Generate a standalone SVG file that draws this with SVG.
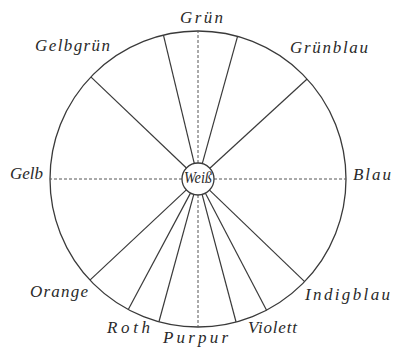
<svg xmlns="http://www.w3.org/2000/svg" width="393" height="347" viewBox="0 0 393 347">
<style>
.lbl{font-family:"Liberation Serif","DejaVu Serif",serif;font-style:italic;font-size:17px;fill:#2a2a2a}
.solid{stroke:#3a3a3a;stroke-width:1.2;fill:none}
.dash{stroke:#555;stroke-width:1;stroke-dasharray:3 2;fill:none}
.ring{stroke:#3a3a3a;stroke-width:1.3;fill:none}
</style>
<rect width="393" height="347" fill="#ffffff"/>
<g id="wheel">
<circle class="ring" cx="198" cy="179" r="148"/>
</g>
<g id="connectors" transform="translate(198,179)">
<line class="dash" x1="0" y1="-16" x2="0" y2="-148"/>
<line class="dash" x1="0" y1="16" x2="0" y2="148"/>
<line class="dash" x1="-16" y1="0" x2="-148" y2="0"/>
<line class="dash" x1="16" y1="0" x2="148" y2="0"/>
<line class="solid" x1="0" y1="-16" x2="0" y2="-148" transform="rotate(-13.5)"/>
<line class="solid" x1="0" y1="-16" x2="0" y2="-148" transform="rotate(15.5)"/>
<line class="solid" x1="0" y1="-16" x2="0" y2="-148" transform="rotate(47.5)"/>
<line class="solid" x1="0" y1="-16" x2="0" y2="-148" transform="rotate(-46.4)"/>
<line class="solid" x1="0" y1="-16" x2="0" y2="-148" transform="rotate(133.9)"/>
<line class="solid" x1="0" y1="-16" x2="0" y2="-148" transform="rotate(152.4)"/>
<line class="solid" x1="0" y1="-16" x2="0" y2="-148" transform="rotate(165.1)"/>
<line class="solid" x1="0" y1="-16" x2="0" y2="-148" transform="rotate(-164.7)"/>
<line class="solid" x1="0" y1="-16" x2="0" y2="-148" transform="rotate(-151.9)"/>
<line class="solid" x1="0" y1="-16" x2="0" y2="-148" transform="rotate(-133.1)"/>
</g>
<g id="weiss">
<circle class="ring" cx="198" cy="179" r="16" fill="#fff"/>
<text class="lbl" x="198" y="183" text-anchor="middle" font-size="12" textLength="28" lengthAdjust="spacingAndGlyphs">Weiß</text>
</g>
<g id="gruen"><text class="lbl" x="180" y="23" textLength="43" lengthAdjust="spacing">Grün</text></g>
<g id="gelbgruen"><text class="lbl" x="35" y="51" textLength="75" lengthAdjust="spacing">Gelbgrün</text></g>
<g id="gruenblau"><text class="lbl" x="290" y="53" textLength="78" lengthAdjust="spacing">Grünblau</text></g>
<g id="gelb"><text class="lbl" x="10" y="179" textLength="33" lengthAdjust="spacing">Gelb</text></g>
<g id="blau"><text class="lbl" x="353" y="180" textLength="38" lengthAdjust="spacing">Blau</text></g>
<g id="orange"><text class="lbl" x="30" y="297" textLength="58" lengthAdjust="spacing">Orange</text></g>
<g id="indigblau"><text class="lbl" x="305" y="300" textLength="85" lengthAdjust="spacing">Indigblau</text></g>
<g id="roth"><text class="lbl" x="107" y="333" textLength="43" lengthAdjust="spacing">Roth</text></g>
<g id="purpur"><text class="lbl" x="163" y="343" textLength="65" lengthAdjust="spacing">Purpur</text></g>
<g id="violett"><text class="lbl" x="248" y="333" textLength="49" lengthAdjust="spacing">Violett</text></g>
</svg>
